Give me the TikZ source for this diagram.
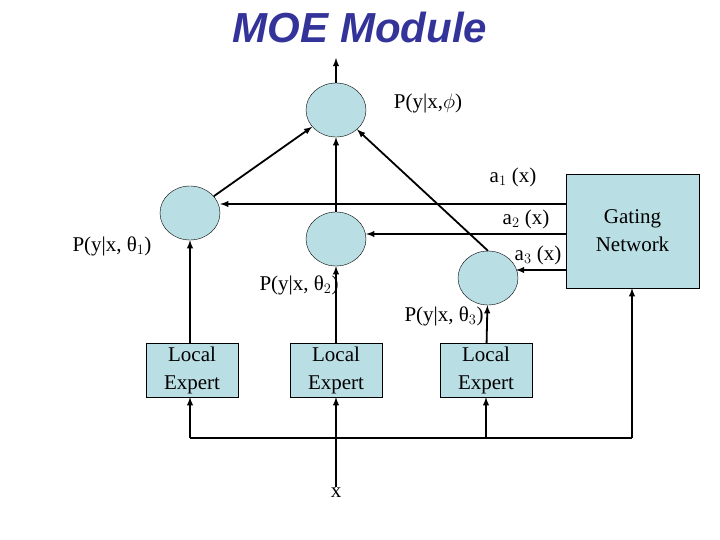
\documentclass[tikz,border=0pt]{standalone}
\usepackage{fontspec}
\setmainfont{Liberation Serif}
\newfontfamily\titlefont{Liberation Sans}
\usetikzlibrary{shapes.geometric}
\begin{document}
\begin{tikzpicture}[x=1pt,y=-1pt,
 circ/.style={ellipse,draw,fill=cfill,minimum width=60pt,minimum height=54pt,inner sep=0pt},
 box/.style={draw,fill=cfill,align=center,inner sep=0pt,font=\fontsize{21}{28}\selectfont},
 lab/.style={font=\fontsize{21}{24}\selectfont,inner sep=1pt},
 ar/.style={draw,line width=1.8pt,-latex}]
\definecolor{cfill}{RGB}{185,222,228}
\definecolor{tblue}{RGB}{51,51,153}
\useasboundingbox (0,0) rectangle (720,540);
\node[font=\titlefont\bfseries\itshape\fontsize{42}{44}\selectfont,text=tblue] (title) at (360,28) {MOE Module};
\node[circ] (top) at (336,110) {};
\node[circ] (c1) at (190,213) {};
\node[circ] (c2) at (336,239) {};
\node[circ] (c3) at (488,278) {};
\node[box,minimum width=133pt,minimum height=114pt] (g) at (632.5,231) {Gating\\Network};
\node[box,minimum width=92pt,minimum height=54pt] (l1) at (192,370) {Local\\Expert};
\node[box,minimum width=92pt,minimum height=54pt] (l2) at (336,370) {Local\\Expert};
\node[box,minimum width=92pt,minimum height=54pt] (l3) at (486,370) {Local\\Expert};
\node[lab] (x) at (336,493) {x};
\coordinate (out) at (336,58);
\coordinate (bl) at (190,438);
\coordinate (br) at (632,438);
\coordinate (bx) at (336,438);
\path[ar] (top) -- (out);
\path[ar] (c1) -- (top);
\path[ar] (c2) -- (top);
\path[ar] (c3.north) -- (top);
\path[ar] (g.west |- 0,204) -- (c1.east |- 0,204);
\path[ar] (g.west |- 0,234) -- (c2.east |- 0,234);
\path[ar] (g.west |- 0,270) -- (516,270);
\path[ar] (l1.north -| c1) -- (c1);
\path[ar] (l2) -- (c2);
\path[ar] (l3) -- (c3);
\draw[line width=1.8pt] (x) -- (bx);
\draw[line width=1.8pt] (bl) -- (br);
\path[ar] (bl) -- (l1.south -| bl);
\path[ar] (bx) -- (l2);
\path[ar] (486,438) -- (l3);
\path[ar] (br) -- (g.south -| br);
\node[lab] (pphi) at (428,103) {P(y|x,$\mathrm{\phi}$)};
\node[lab] (a1) at (513,177) {a$_1$ (x)};
\node[lab] (a2) at (526,219) {a$_2$ (x)};
\node[lab] (a3) at (538,255) {a$_3$ (x)};
\node[lab] (p1) at (112,246) {P(y|x, θ$_1$)};
\node[lab] (p2) at (299,285) {P(y|x, θ$_2$)};
\node[lab] (p3) at (444,316) {P(y|x, θ$_3$)};
\end{tikzpicture}
\end{document}
